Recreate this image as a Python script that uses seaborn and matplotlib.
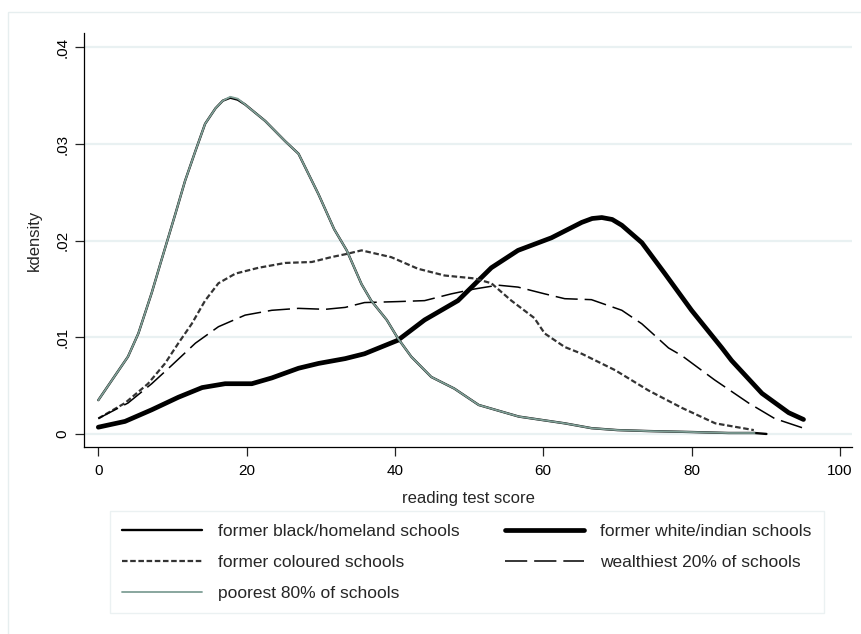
import matplotlib
matplotlib.use("Agg")
import matplotlib.pyplot as plt
from matplotlib.patches import Rectangle
import seaborn as sns
import pandas as pd

# Kernel density estimates of reading test scores, by school group
black_x = [0, 4, 5.4, 7.2, 8.4, 10.4, 11.7, 13.1, 14.4, 15.8, 16.8, 17.8, 18.8, 19.8, 22.5,
           25.2, 27.0, 29.7, 31.8, 33.5, 35.5, 36.8, 38.9, 40.4, 42.2, 44.9, 48.0, 51.3,
           56.7, 62.9, 66.5, 70.0, 74.2, 80.0, 85.0, 88.5, 90.1]
black_y = [0.0035, 0.0080, 0.0104, 0.0146, 0.0177, 0.0228, 0.0262, 0.0293, 0.0321, 0.0337,
           0.0345, 0.0348, 0.0346, 0.0341, 0.0324, 0.0303, 0.0290, 0.0248, 0.0212, 0.0190,
           0.0155, 0.0138, 0.0118, 0.0099, 0.0080, 0.0059, 0.0047, 0.0030, 0.0018, 0.0011,
           0.0006, 0.0004, 0.0003, 0.0002, 0.0001, 0.0001, 0.0000]

poor_x = [0, 4, 5.4, 7.2, 8.4, 10.4, 11.7, 13.1, 14.4, 15.8, 16.8, 17.8, 18.8, 19.8, 22.5,
          25.2, 27.0, 29.7, 31.8, 33.5, 35.5, 36.8, 38.9, 40.4, 42.2, 44.9, 48.0, 51.3,
          56.7, 62.9, 66.5, 70.0, 74.2, 80.0, 85.0, 88.5]
poor_y = [0.0035, 0.0080, 0.0104, 0.0146, 0.0177, 0.0228, 0.0262, 0.0293, 0.0321, 0.0337,
          0.0345, 0.0349, 0.0347, 0.0341, 0.0324, 0.0303, 0.0290, 0.0248, 0.0212, 0.0190,
          0.0155, 0.0138, 0.0118, 0.0099, 0.0080, 0.0059, 0.0047, 0.0030, 0.0018, 0.0011,
          0.0006, 0.0004, 0.0003, 0.0002, 0.0001, 0.0001]

white_x = [0, 3.6, 7.2, 10.8, 14.0, 17.1, 20.7, 23.4, 27.0, 29.7, 33.3, 35.9, 40.4, 44.0,
           48.5, 53.0, 56.6, 61.1, 65.2, 66.6, 67.9, 69.3, 70.6, 73.3, 76.4, 80.0, 84.1,
           85.4, 89.5, 93.1, 95.1]
white_y = [0.0007, 0.0013, 0.0025, 0.0038, 0.0048, 0.0052, 0.0052, 0.0058, 0.0068, 0.0073,
           0.0078, 0.0083, 0.0097, 0.0118, 0.0138, 0.0172, 0.0190, 0.0203, 0.0219, 0.0223,
           0.0224, 0.0222, 0.0216, 0.0198, 0.0166, 0.0128, 0.0089, 0.0076, 0.0042, 0.0022,
           0.0015]

coloured_x = [0, 3.6, 6.7, 9.0, 10.8, 12.6, 14.4, 16.2, 18.5, 21.6, 25.2, 28.8, 31.4, 33.3,
              35.5, 39.5, 43.1, 46.7, 50.7, 53.0, 55.7, 58.8, 60.2, 62.9, 65.2, 69.7, 74.2,
              78.7, 83.2, 88.4]
coloured_y = [0.0016, 0.0032, 0.0052, 0.0073, 0.0094, 0.0114, 0.0138, 0.0156, 0.0166, 0.0172,
              0.0177, 0.0178, 0.0183, 0.0186, 0.0190, 0.0183, 0.0171, 0.0164, 0.0161, 0.0156,
              0.0138, 0.0120, 0.0104, 0.0090, 0.0083, 0.0066, 0.0045, 0.0027, 0.0011, 0.0004]

wealthy_x = [0, 4, 7.2, 9.9, 13.1, 16.2, 19.8, 23.4, 27.0, 30.6, 33.3, 35.9, 40.4, 44.0, 47.6,
             50.7, 53.9, 56.6, 60.2, 62.9, 66.5, 70.6, 73.3, 74.6, 76.9, 78.7, 83.1, 87.7,
             91.2, 95.1]
wealthy_y = [0.0016, 0.0032, 0.0052, 0.0071, 0.0094, 0.0111, 0.0123, 0.0128, 0.0130, 0.0129,
             0.0131, 0.0136, 0.0137, 0.0138, 0.0145, 0.0150, 0.0154, 0.0152, 0.0145, 0.0140,
             0.0139, 0.0128, 0.0114, 0.0105, 0.0089, 0.0081, 0.0056, 0.0032, 0.0016, 0.0006]

series_labels = ["former black/homeland schools", "former white/indian schools",
                 "former coloured schools", "wealthiest 20% of schools",
                 "poorest 80% of schools"]
x_ticks = [0, 20, 40, 60, 80, 100]
y_ticks = [0, 0.01, 0.02, 0.03, 0.04]
y_tick_labels = ["0", ".01", ".02", ".03", ".04"]

sns.set_theme(style="white")
plt.rcParams["font.family"] = ["Liberation Sans", "DejaVu Sans"]
plt.rcParams["lines.scale_dashes"] = False

W, H = 862, 634
fig = plt.figure(figsize=(W / 100, H / 100), dpi=100)
fig.patch.set_facecolor("white")

# light outer frame of the graph region
fig.patches.append(Rectangle((8 / W, -0.01), 1.0, 1 - 12 / H + 0.01, transform=fig.transFigure,
                             fill=False, edgecolor="#e6eeef", linewidth=1.0, zorder=0))

left, right, top, bottom = 84, 852, 33, 447
ax = fig.add_axes([left / W, 1 - bottom / H, (right - left) / W, (bottom - top) / H])
ax.set_facecolor("white")

GREEN = "#7f9f96"

def draw(xs, ys, **kw):
    df = pd.DataFrame({"score": xs, "density": ys})
    sns.lineplot(data=df, x="score", y="density", ax=ax, sort=False, estimator=None, **kw)
    return ax.lines[-1]

l_black = draw(black_x, black_y, color="black", linewidth=1.7, label=series_labels[0])
l_white = draw(white_x, white_y, color="black", linewidth=3.4, label=series_labels[1])
l_col = draw(coloured_x, coloured_y, color="#333333", linewidth=1.6, label=series_labels[2])
l_col.set_dashes([4.0, 1.9])
l_wea = draw(wealthy_x, wealthy_y, color="black", linewidth=1.1, label=series_labels[3])
l_wea.set_dashes([16, 5])
l_poor = draw(poor_x, poor_y, color=GREEN, linewidth=1.3, label=series_labels[4])
for ln in ax.lines:
    ln.set_solid_capstyle("round")
    ln.set_solid_joinstyle("round")
if ax.get_legend() is not None:
    ax.get_legend().remove()

# axis ranges chosen so that 0..100 and 0..0.04 sit inside the plot region
ax.set_xlim(-1.93, 101.64)
ax.set_ylim(-0.00135, 0.0415)
ax.set_xticks(x_ticks)
ax.set_xticklabels([str(t) for t in x_ticks])
ax.set_yticks(y_ticks)
ax.set_yticklabels(y_tick_labels, rotation=90, va="center")

ax.grid(False)
for t in y_ticks:
    ax.axhline(t, color="#e9f1f2", linewidth=1.6, zorder=0)

for side in ["top", "right"]:
    ax.spines[side].set_visible(False)
for side in ["left", "bottom"]:
    ax.spines[side].set_color("black")
    ax.spines[side].set_linewidth(0.9)

ax.tick_params(axis="both", which="major", direction="out", length=6.5, width=0.9,
               color="#222222", labelsize=11, labelcolor="black",
               left=True, bottom=True)
ax.tick_params(axis="x", pad=6)
ax.tick_params(axis="y", pad=4)

ax.set_xlabel("reading test score", fontsize=12, labelpad=9)
ax.set_ylabel("kdensity", fontsize=12, labelpad=10)

handles = [l_black, l_col, l_poor, l_white, l_wea]
labels = [series_labels[0], series_labels[2], series_labels[4], series_labels[1], series_labels[3]]
leg = fig.legend(handles, labels, ncol=2, loc="lower left",
                 bbox_to_anchor=(110 / W, 1 - 613 / H, (824 - 110) / W, (613 - 511) / H),
                 mode="expand", fontsize=12.5, frameon=True, fancybox=False,
                 handlelength=4.6, handletextpad=0.92, labelspacing=0.92,
                 borderpad=0.7, borderaxespad=0.0, columnspacing=2.2)
leg.get_frame().set_edgecolor("#e6eeef")
leg.get_frame().set_linewidth(1.0)

fig.savefig("out.png", dpi=100)
